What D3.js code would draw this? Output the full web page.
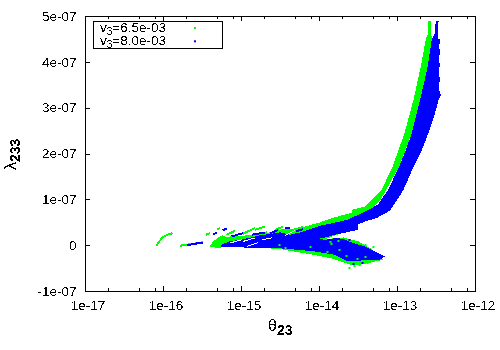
<!DOCTYPE html>
<html>
<head>
<meta charset="utf-8">
<script src="https://cdn.jsdelivr.net/npm/d3@7"></script>
<style>
  html, body { margin: 0; padding: 0; background: #fff; }
  svg { display: block; }
  text { font-family: "Liberation Sans", Arial, sans-serif; fill: #000; }
</style>
</head>
<body>
<div id="chart"></div>
<script>
// all points below are [log10(theta23), lambda233 / 1e-7]
const seriesNames = ["6.5e-03", "8.0e-03"];
const seriesColors = ["#00ff00", "#0000ff"];
const xMajor = [1e-17, 1e-16, 1e-15, 1e-14, 1e-13, 1e-12];
const xLabels = ["1e-17", "1e-16", "1e-15", "1e-14", "1e-13", "1e-12"];
const xMinorFactors = [2, 5, 8];
const yMajor = [-1e-7, 0, 1e-7, 2e-7, 3e-7, 4e-7, 5e-7];
const yLabels = ["-1e-07", "0", "1e-07", "2e-07", "3e-07", "4e-07", "5e-07"];

// outline of the green cloud
const greenCloud = [
  [-12.59, 4.897], [-12.555, 4.897], [-12.56, 4.6], [-12.539, 4.503], [-12.6, 3.9], [-12.696, 3.173], [-12.803, 2.446],
  [-12.965, 1.717], [-13.2, 1.0], [-13.596, 0.336], [-13.91, 0.133], [-13.68, 0.168], [-13.487, 0.081],
  [-13.337, -0.063], [-13.17, -0.319], [-13.468, -0.428], [-13.56, -0.44], [-13.7, -0.36], [-13.85, -0.281], [-14.06, -0.21],
  [-14.32, -0.137], [-14.49, -0.085], [-14.71, -0.063], [-14.92, -0.041], [-15.187, -0.046], [-15.315, -0.057],
  [-15.392, -0.028], [-15.366, 0.052], [-15.302, 0.151], [-15.226, 0.216], [-15.187, 0.183], [-14.969, 0.205],
  [-14.751, 0.249], [-14.559, 0.292], [-14.457, 0.358], [-14.329, 0.347], [-14.2, 0.395], [-13.983, 0.495],
  [-13.829, 0.591], [-13.573, 0.707], [-13.573, 0.772], [-13.406, 0.844], [-13.256, 1.1], [-13.19, 1.209],
  [-13.05, 1.717], [-12.897, 2.446], [-12.782, 3.173], [-12.688, 3.9], [-12.623, 4.503], [-12.6, 4.6]
];

// outline of the blue cloud
const blueCloud = [
  [-12.495, 4.897], [-12.46, 4.897], [-12.474, 4.6], [-12.47, 4.503], [-12.44, 4.5], [-12.455, 4.3], [-12.44, 4.25],
  [-12.46, 4.0], [-12.444, 3.95], [-12.46, 3.7], [-12.444, 3.65], [-12.455, 3.4], [-12.43, 3.28],
  [-12.461, 3.173], [-12.517, 2.808], [-12.59, 2.446], [-12.674, 2.082], [-12.78, 1.717], [-12.91, 1.209],
  [-13.017, 0.919], [-13.086, 0.751], [-13.256, 0.591], [-13.406, 0.517], [-13.496, 0.445], [-13.496, 0.336],
  [-13.662, 0.271], [-13.79, 0.227], [-13.944, 0.155], [-14.008, 0.14], [-13.918, 0.118], [-13.752, 0.161],
  [-13.662, 0.118], [-13.56, 0.052], [-13.406, -0.028], [-13.278, -0.137], [-13.15, -0.247], [-13.214, -0.319],
  [-13.406, -0.319], [-13.534, -0.356], [-13.624, -0.356], [-13.79, -0.21], [-14.047, -0.137], [-14.28, -0.1],
  [-14.495, -0.068], [-14.803, -0.068], [-15.008, -0.046], [-15.251, -0.046], [-15.251, 0.009], [-15.136, 0.085],
  [-15.008, 0.118], [-14.88, 0.161], [-14.751, 0.216], [-14.598, 0.249], [-14.495, 0.281], [-14.367, 0.227],
  [-14.239, 0.277], [-14.111, 0.351], [-13.983, 0.423], [-13.918, 0.445], [-13.625, 0.554], [-13.406, 0.735],
  [-13.24, 0.881], [-13.107, 1.209], [-12.965, 1.717], [-12.88, 2.082], [-12.803, 2.446], [-12.751, 2.808],
  [-12.696, 3.173], [-12.6, 3.9], [-12.546, 4.503], [-12.513, 4.6]
];

// thin arcs and fingers that stick out of the clouds
const greenStreaks = [
  [[-16.075, -0.013], [-16.054, 0.059], [-16.024, 0.118], [-15.998, 0.168], [-15.965, 0.205], [-15.926, 0.234], [-15.895, 0.249], [-15.87, 0.264]],
  [[-15.776, -0.013], [-15.7, 0.009], [-15.623, 0.024], [-15.546, 0.046], [-15.48, 0.068]],
  [[-15.444, 0.227], [-15.393, 0.26]],
  [[-15.299, 0.351], [-15.264, 0.373]],
  [[-15.178, 0.227], [-15.072, 0.314]],
  [[-14.969, 0.249], [-14.815, 0.373]],
  [[-14.815, 0.336], [-14.687, 0.408]],
  [[-14.76, 0.24], [-14.66, 0.28]],
  [[-14.559, 0.33], [-14.457, 0.405]],
  [[-14.329, 0.33], [-14.2, 0.395]]
];
const blueStreaks = [
  [[-15.687, -0.002], [-15.623, 0.02], [-15.546, 0.041], [-15.48, 0.059]],
  [[-15.357, 0.242], [-15.299, 0.264]],
  [[-15.229, 0.321], [-15.178, 0.364]],
  [[-15.114, 0.19], [-14.965, 0.264]],
  [[-14.858, 0.227], [-14.687, 0.277]],
  [[-14.62, 0.26], [-14.52, 0.33]],
  [[-14.43, 0.38], [-14.36, 0.38]],
  [[-14.29, 0.3], [-14.2, 0.35]]
];

// white slits between the fingers
const gaps = [
  [[-15.13, 0.05], [-14.98, 0.12]],
  [[-14.97, 0.08], [-14.82, 0.155]],
  [[-14.92, -0.03], [-14.77, 0.06]],
  [[-14.43, 0.21], [-14.3, 0.32]],
  [[-14.72, 0.12], [-14.6, 0.16]]
];

// single dots
const greenDots = [
  [-13.6, -0.5], [-13.534, -0.45], [-13.47, -0.44], [-13.66, -0.36], [-13.367, -0.384], [-13.726, -0.1],
  [-13.88, -0.144], [-13.83, 0.03], [-13.64, -0.24], [-13.5, -0.3], [-13.4, -0.25], [-14.5, 0.0], [-14.42, -0.06],
  [-14.1, -0.05], [-13.3, -0.05], [-13.4, 0.0], [-13.58, 0.09], [-13.74, 0.1], [-13.85, 0.08]
];
const blueDots = [
  [-13.3, -0.3], [-13.44, -0.38], [-13.55, -0.41], [-13.62, -0.31], [-13.68, 0.11], [-13.6, 0.12]
];

const width = 500;
const height = 350;
const margin = { top: 16, left: 84.5, bottom: 59, right: 25.5 };
const iwidth = width - margin.left - margin.right;
const iheight = height - margin.top - margin.bottom;

const svg = d3.select("#chart").append("svg")
  .attr("width", width)
  .attr("height", height);

// hard edged text, the reference has no antialiasing
const aliased = svg.append("defs").append("filter").attr("id", "aliased")
  .attr("color-interpolation-filters", "sRGB");
aliased.append("feComponentTransfer").append("feFuncA")
  .attr("type", "discrete").attr("tableValues", "0 1");

const g = svg.append("g").attr("transform", `translate(${margin.left},${margin.top})`);

const x = d3.scaleLog().domain([1e-17, 1e-12]).range([0, iwidth]);
const y = d3.scaleLinear().domain([-1e-7, 5e-7]).range([iheight, 0]);

const px = d => x(Math.pow(10, d[0]));
const py = d => y(d[1] * 1e-7);
const outline = d3.line().x(px).y(py).curve(d3.curveLinearClosed);
const streak = d3.line().x(px).y(py);

function drawStreaks(list, color, w) {
  g.append("g").selectAll("path").data(list).enter().append("path")
    .attr("d", streak)
    .attr("fill", "none")
    .attr("stroke", color)
    .attr("stroke-width", w)
    .attr("shape-rendering", "crispEdges");
}

function drawDots(list, color) {
  g.append("g").selectAll("rect").data(list).enter().append("rect")
    .attr("x", d => Math.round(px(d)) - 1)
    .attr("y", d => Math.round(py(d)) - 1)
    .attr("width", 2)
    .attr("height", 2)
    .attr("fill", color);
}

g.append("path").attr("d", outline(greenCloud)).attr("fill", seriesColors[0]).attr("shape-rendering", "crispEdges");
drawStreaks(greenStreaks, seriesColors[0], 2);
g.append("path").attr("d", outline(blueCloud)).attr("fill", seriesColors[1]).attr("shape-rendering", "crispEdges");
drawStreaks(blueStreaks, seriesColors[1], 2);
drawStreaks(gaps, "#fff", 1);
drawDots(greenDots, seriesColors[0]);
drawDots(blueDots, seriesColors[1]);

const xMinor = xMajor.slice(0, -1).flatMap(v => xMinorFactors.map(f => v * f));

function styleAxis(sel) {
  sel.selectAll("path, line").attr("stroke", "#000").attr("shape-rendering", "crispEdges");
  sel.selectAll("text").attr("font-size", 13.5).attr("font-family", '"Liberation Sans", Arial, sans-serif')
    .attr("filter", "url(#aliased)");
}

g.append("g").attr("transform", `translate(0,${iheight})`)
  .call(d3.axisBottom(x).tickValues(xMajor).tickFormat((d, i) => xLabels[i]).tickSizeInner(-5).tickSizeOuter(0).tickPadding(9.5))
  .call(styleAxis)
  .selectAll("text").attr("dx", 3);
g.append("g").attr("transform", `translate(0,${iheight})`)
  .call(d3.axisBottom(x).tickValues(xMinor).tickFormat("").tickSizeInner(-3).tickSizeOuter(0))
  .call(styleAxis);
g.append("g")
  .call(d3.axisTop(x).tickValues(xMajor).tickFormat("").tickSizeInner(-5).tickSizeOuter(0))
  .call(styleAxis);
g.append("g")
  .call(d3.axisTop(x).tickValues(xMinor).tickFormat("").tickSizeInner(-3).tickSizeOuter(0))
  .call(styleAxis);
g.append("g")
  .call(d3.axisLeft(y).tickValues(yMajor).tickFormat((d, i) => yLabels[i]).tickSizeInner(-5).tickSizeOuter(0).tickPadding(8))
  .call(styleAxis);
g.append("g").attr("transform", `translate(${iwidth},0)`)
  .call(d3.axisRight(y).tickValues(yMajor).tickFormat("").tickSizeInner(-5).tickSizeOuter(0))
  .call(styleAxis);

// legend
const legend = svg.append("g");
legend.append("rect")
  .attr("x", 93.5).attr("y", 21.5).attr("width", 129).attr("height", 27)
  .attr("fill", "#fff").attr("stroke", "#000").attr("shape-rendering", "crispEdges");
seriesNames.forEach((name, i) => {
  const t = legend.append("text").attr("x", 100).attr("y", 32 + i * 13.3).attr("font-size", 13.5)
    .attr("filter", "url(#aliased)");
  t.append("tspan").text("v");
  t.append("tspan").attr("dy", 3).attr("font-size", 10).text("3");
  t.append("tspan").attr("dy", -3).text("=" + name);
  legend.append("rect")
    .attr("x", 194).attr("y", 27 + i * 13.3).attr("width", 2).attr("height", 2)
    .attr("fill", seriesColors[i]);
});

// axis titles
const xTitle = svg.append("text").attr("x", 268).attr("y", 331).attr("font-size", 16)
  .attr("filter", "url(#aliased)");
xTitle.append("tspan").text("θ");
xTitle.append("tspan").attr("dy", 4).attr("font-size", 14).attr("font-weight", "bold").text("23");

const yTitle = svg.append("text").attr("transform", "translate(16,170) rotate(-90)").attr("font-size", 16)
  .attr("filter", "url(#aliased)");
yTitle.append("tspan").text("λ");
yTitle.append("tspan").attr("dy", 4).attr("font-size", 14).attr("font-weight", "bold").text("233");
</script>
</body>
</html>
